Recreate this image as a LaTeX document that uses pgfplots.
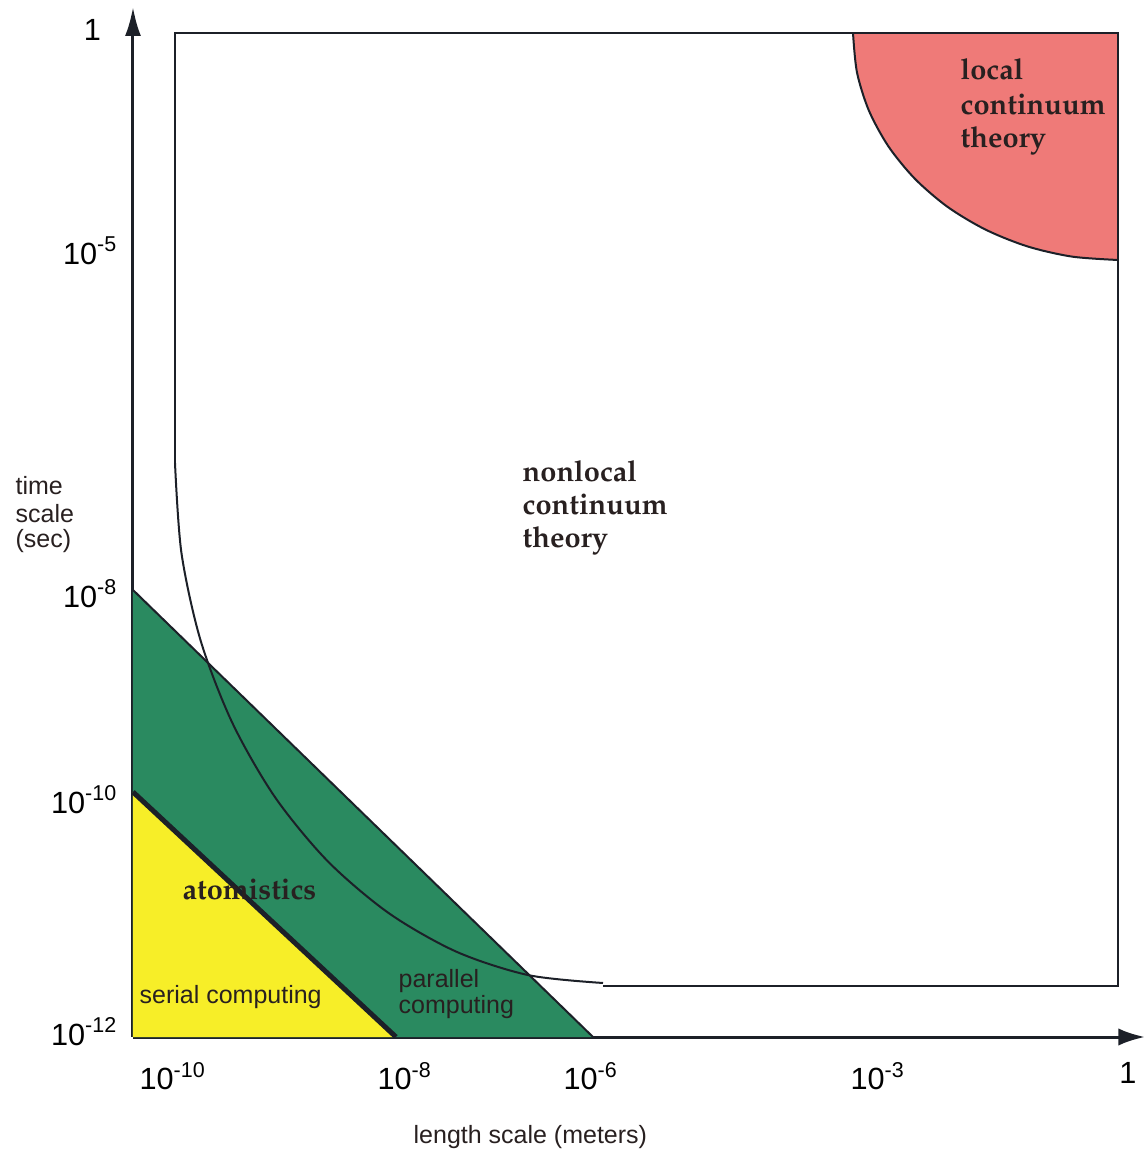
\documentclass[border=0pt]{standalone}
\usepackage[T1]{fontenc}
\usepackage{fontspec}
\setmainfont{Liberation Sans}
\usepackage{pgfplots}
\pgfplotsset{compat=1.18}
\usetikzlibrary{arrows.meta}

\definecolor{serialyellow}{RGB}{247,238,40}
\definecolor{parallelgreen}{RGB}{42,138,96}
\definecolor{localred}{RGB}{239,122,120}
\definecolor{inkline}{RGB}{28,32,40}
\definecolor{inktext}{RGB}{40,32,32}

% bold Palatino-style face for the region names
\newcommand\regionfont{\fontencoding{T1}\fontfamily{ppl}\fontseries{b}\fontshape{n}\fontsize{8.7}{10}\selectfont}
\newcommand\labelfont{\fontsize{7.5}{9}\selectfont}

\begin{document}
\begin{tikzpicture}
\begin{axis}[
  scale only axis,
  width=303.6pt, height=309pt,
  xmin=0, xmax=1012, ymin=0, ymax=1030,
  axis x line*=bottom, axis y line*=left,
  axis line style={line width=0.9pt, draw=inkline},
  x axis line style={-{Latex[length=8pt,width=5.2pt]}},
  y axis line style={-{Latex[length=8.7pt,width=4.8pt]}},
  xtick={40,272,458,745,995},
  xticklabels={10\textsuperscript{-10},10\textsuperscript{-8},10\textsuperscript{-6},10\textsuperscript{-3},1},
  ytick={5,237,443,786,1007},
  yticklabels={10\textsuperscript{-12},10\textsuperscript{-10},10\textsuperscript{-8},10\textsuperscript{-5},1\phantom{0}},
  major tick length=0pt,
  tick style={draw=none},
  tick label style={font=\fontsize{9.2}{11}\selectfont, text=black},
  xticklabel style={yshift=-4pt},
  yticklabel style={xshift=-1pt},
  clip=false,
]
% parallel computing band
\addplot[fill=parallelgreen, draw=none] coordinates {(0,0) (0,447) (460,0)} -- cycle;
% serial computing triangle
\addplot[fill=serialyellow, draw=none] coordinates {(0,0) (0,245) (263,0)} -- cycle;
\addplot[inkline, line width=0.6pt] coordinates {(0,447) (460,0)};
\addplot[inkline, line width=1.5pt] coordinates {(0,245) (263,0)};

% local continuum region (quarter ellipse in the corner)
\addplot[fill=localred, draw=none, smooth] coordinates {
  (720,1004) (724,964.5) (735.9,926.4) (755.5,890.5) (782,858.1)
  (814.6,830.1) (852.5,807.4) (894.4,790.6) (938.9,780.4) (985,777)
} -- (axis cs:985,1004) -- cycle;
\addplot[inkline, line width=0.6pt, smooth] coordinates {
  (720,1004) (724,964.5) (735.9,926.4) (755.5,890.5) (782,858.1)
  (814.6,830.1) (852.5,807.4) (894.4,790.6) (938.9,780.4) (985,777)
};

% nonlocal continuum boundary
\addplot[inkline, line width=0.6pt] coordinates {(42,574) (42,1004) (985,1004) (985,51) (470,51)};
\addplot[inkline, line width=0.6pt, smooth] coordinates {
  (42,574) (48.5,483.7) (67.7,396.2) (99.4,314) (142.1,239.7)
  (194.8,175.7) (256,123.7) (323.6,85.2) (395.7,61.8) (470,54)
};

% region names
\begin{scope}[every node/.style={anchor=base west, inner sep=0pt, font=\regionfont, text=inktext}]
\node at (axis cs:827,957) {local};
\node at (axis cs:827,922) {continuum};
\node at (axis cs:827,889) {theory};
\node at (axis cs:389,555) {nonlocal};
\node at (axis cs:389,522) {continuum};
\node at (axis cs:389,489) {theory};
\node at (axis cs:49,137) {atomistics};
\end{scope}
\begin{scope}[every node/.style={anchor=base west, inner sep=0pt, font=\labelfont, text=inktext}]
\node at (axis cs:6,34) {serial computing};
\node at (axis cs:265,50) {parallel};
\node at (axis cs:265,24) {computing};
\node at (axis cs:-118,542) {time};
\node at (axis cs:-118,514) {scale};
\node at (axis cs:-118,489) {(sec)};
\node at (axis cs:280,-106) {length scale (meters)};
\end{scope}

\coordinate (bl) at (axis cs:-133,-115);
\coordinate (tr) at (axis cs:1012,1037);
\end{axis}
\pgfresetboundingbox
\path (bl) rectangle (tr);
\end{tikzpicture}
\end{document}
